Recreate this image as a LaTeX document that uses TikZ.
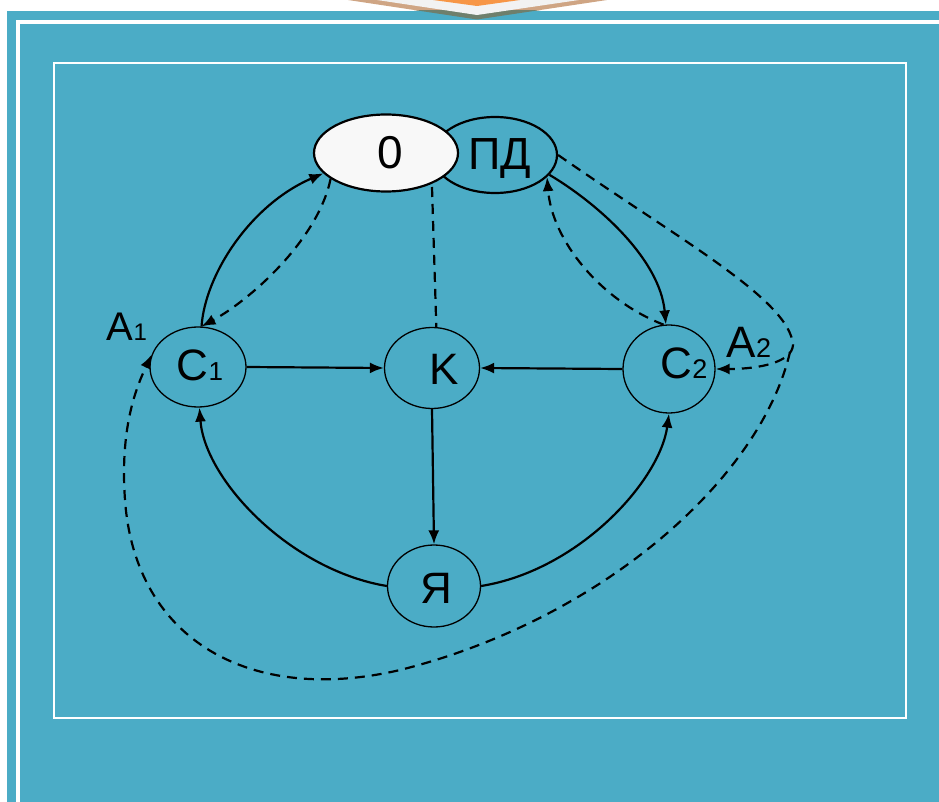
\documentclass[tikz,border=0pt]{standalone}
\usepackage{fontspec}
\setmainfont{Liberation Sans}
\usetikzlibrary{shapes.geometric,arrows.meta}
\definecolor{bgblue}{HTML}{4BACC6}
\definecolor{chtan}{HTML}{CFA584}
\definecolor{chshadow}{HTML}{6E7F6C}
\definecolor{chorange}{HTML}{F79646}
\definecolor{chwhite}{HTML}{F2F2F2}
\definecolor{ofill}{HTML}{F8F8F8}
\newcommand\mylab[4]{{\fontsize{#3}{#3}\selectfont #1}{\fontsize{#4}{#4}\selectfont #2}}
\tikzset{
  state/.style={draw, ellipse, line width=1.3pt, inner sep=0pt},
  topstate/.style={draw, ellipse, line width=2.2pt, inner sep=0pt},
  txt/.style={inner sep=0pt, anchor=base},
  arr/.style={line width=2.2pt, -{Latex[length=14pt,width=11pt]}},
  dsh/.style={line width=2.2pt, dash pattern=on 10pt off 7pt},
  dsharr/.style={arr, dash pattern=on 10pt off 7pt},
}
\begin{document}
\begin{tikzpicture}[x=1pt,y=-1pt]
\useasboundingbox (0,0) rectangle (939,802);
% background and frame
\fill[white] (0,0) rectangle (939,802);
\fill[bgblue] (7,11) rectangle (939,802);
\fill[white] (16,20) rectangle (20,802);
\fill[white] (16,20) rectangle (939,24);
\draw[white, line width=2.5pt] (54,63) rectangle (906,718);
% chevron
\begin{scope}
  \clip (0,0) rectangle (939,11);
  \fill[chtan] (348,0) -- (477,19.5) -- (607,0) -- cycle;
\end{scope}
\begin{scope}
  \clip (0,11) rectangle (939,30);
  \fill[chshadow] (348,0) -- (477,19.5) -- (607,0) -- cycle;
\end{scope}
\fill[chwhite] (377,0) -- (477,15) -- (579,0) -- cycle;
\fill[chorange] (433,0) -- (477,6) -- (520,0) -- cycle;
% nodes
\node[topstate, minimum width=124pt, minimum height=76pt] (PD) at (495,155) {};
\node[topstate, fill=ofill, minimum width=144pt, minimum height=77pt] (O) at (386,153) {};
\node[state, minimum width=96pt, minimum height=80pt] (C1) at (198,367) {};
\node[state, minimum width=95pt, minimum height=81pt] (K) at (432,368) {};
\node[state, minimum width=92pt, minimum height=88pt] (C2) at (669,369) {};
\node[state, minimum width=93pt, minimum height=82pt] (Ya) at (434,586) {};
% texts
\node[txt] (tO) at (390,169) {\fontsize{46}{46}\selectfont 0};
\node[txt] (tPD) at (500,170) {\fontsize{45}{45}\selectfont ПД};
\node[txt] (tC1) at (200,380) {\mylab{C}{1}{44}{26}};
\node[txt] (tC2) at (684,378) {\mylab{C}{2}{44}{27}};
\node[txt] (tK) at (444,384) {\fontsize{44}{44}\selectfont K};
\node[txt] (tYa) at (436,603) {\fontsize{44}{44}\selectfont Я};
\node[txt] (tA1) at (127,340) {\mylab{A}{1}{40}{24}};
\node[txt] (tA2) at (749,357) {\mylab{A}{2}{44}{27}};
% coordinates
\coordinate (join) at (432,187);
\coordinate (turn) at (790,352);
% left pair
\draw[arr] (C1.85) .. controls (205,275) and (250,205) .. (O.198);
\draw[dsharr] (O.205) .. controls (318,240) and (250,300) .. (C1.85);
% right pair
\draw[arr] (PD.340) .. controls (600,205) and (660,260) .. (C2.94);
\draw[dsharr] (C2.97) .. controls (600,300) and (552,240) .. (PD.337);
% vertical dashed
\draw[dsh] (join) -- (K.84);
% straight arrows
\draw[arr] (C1.east) -- (K.west);
\draw[arr] (C2.west) -- (K.east);
\draw[arr] (K.south) -- (Ya.north);
% lower arcs
\draw[arr] (Ya.west) .. controls (290,570) and (205,480) .. (C1.272);
\draw[arr] (Ya.east) .. controls (580,570) and (660,480) .. (C2.-90);
% big dashed loop
\draw[dsharr] (PD.east) .. controls (680,240) and (790,300) .. (793,345)
   .. controls (792,362) and (760,369) .. (C2.east);
\draw[dsharr] (turn) .. controls (760,480) and (600,620) .. (400,670)
   .. controls (250,705) and (135,640) .. (125,500)
   .. controls (120,430) and (135,390) .. (C1.165);
\end{tikzpicture}
\end{document}
